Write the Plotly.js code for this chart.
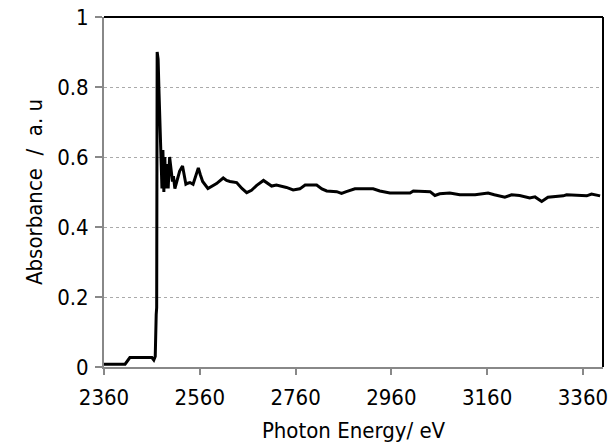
<!DOCTYPE html>
<html>
<head>
<meta charset="utf-8">
<script src="https://cdn.plot.ly/plotly-3.0.1.min.js"></script>
<style>html,body{margin:0;padding:0;background:#fff;}#chart{width:614px;height:443px;}</style>
</head>
<body>
<div id="chart"></div>
<script>
const energy = [2360,2404,2414,2460,2464,2467,2469,2470,2471,2473,2475,2477,2479,2481,2483,2485,2487,2489,2491,2494,2497,2500,2503,2505,2508,2512,2518,2524,2528,2531,2535,2539.5,2546,2550,2557,2561,2566,2577,2588,2595,2609,2616,2623,2637,2648,2658,2668,2679,2693,2700,2710,2720,2741,2755,2769,2780,2804,2815,2825,2846,2856,2866,2884,2922,2936,2957,2999,3006,3026,3041,3051,3061,3082,3103,3135,3162,3175,3197,3211,3228,3249,3260,3274,3287,3319,3326,3368,3378,3396];
const absorbance = [0.008,0.008,0.027,0.027,0.02,0.03,0.15,0.17,0.9,0.88,0.78,0.7,0.61,0.51,0.62,0.50,0.6,0.51,0.58,0.51,0.60,0.56,0.53,0.545,0.51,0.53,0.56,0.574,0.54,0.522,0.525,0.527,0.522,0.54,0.569,0.55,0.53,0.51,0.52,0.524,0.54,0.533,0.53,0.527,0.51,0.498,0.505,0.519,0.533,0.527,0.517,0.52,0.513,0.506,0.509,0.52,0.52,0.509,0.503,0.501,0.496,0.501,0.509,0.509,0.503,0.497,0.497,0.503,0.501,0.501,0.49,0.495,0.497,0.492,0.492,0.497,0.492,0.485,0.492,0.490,0.483,0.486,0.473,0.485,0.489,0.492,0.489,0.494,0.489];
const xTicks = [2360,2560,2760,2960,3160,3360];
const yTicks = [0,0.2,0.4,0.6,0.8,1];

const FONT = '"Liberation Sans Narrow", "DejaVu Sans Condensed", "Noto Sans CJK JP", sans-serif';

Plotly.newPlot('chart', [{
  x: energy, y: absorbance, type: 'scatter', mode: 'lines',
  line: {color: '#000', width: 3}, hoverinfo: 'skip'
}], {
  width: 614, height: 443,
  margin: {l: 104, r: 11, t: 17, b: 76},
  paper_bgcolor: '#fff', plot_bgcolor: '#fff',
  showlegend: false,
  font: {family: FONT, color: '#000', size: 22},
  xaxis: {
    range: [2360, 3402], tickvals: xTicks, ticktext: xTicks.map(String),
    showgrid: false, zeroline: false,
    showline: true, linecolor: '#888', linewidth: 2,
    ticks: 'outside', ticklen: 6, tickcolor: '#888', tickwidth: 2,
    ticklabelstandoff: 4,
    tickfont: {family: FONT, size: 22, color: '#000'},
    title: {text: 'Photon Energy/ eV', font: {family: FONT, size: 22, color: '#000'}, standoff: 14}
  },
  yaxis: {
    range: [0, 1], tickvals: yTicks, ticktext: ['0','0.2','0.4','0.6','0.8','1'],
    showgrid: true, gridcolor: '#aaa', gridwidth: 1, griddash: 'dot',
    zeroline: false,
    showline: true, linecolor: '#888', linewidth: 2,
    ticks: 'outside', ticklen: 7, tickcolor: '#888', tickwidth: 2,
    ticklabelstandoff: 2,
    tickfont: {family: FONT, size: 22, color: '#000'},
    title: {text: 'Absorbance  /  a. u', font: {family: FONT, size: 22, color: '#000'}, standoff: 8}
  },
  shapes: [
    {type: 'line', xref: 'paper', yref: 'paper', x0: 0, x1: 1, y0: 1, y1: 1, line: {color: '#000', width: 2}},
    {type: 'line', xref: 'paper', yref: 'paper', x0: 1, x1: 1, y0: 0, y1: 1, line: {color: '#000', width: 2}}
  ]
}, {displayModeBar: false, staticPlot: true});
</script>
</body>
</html>
